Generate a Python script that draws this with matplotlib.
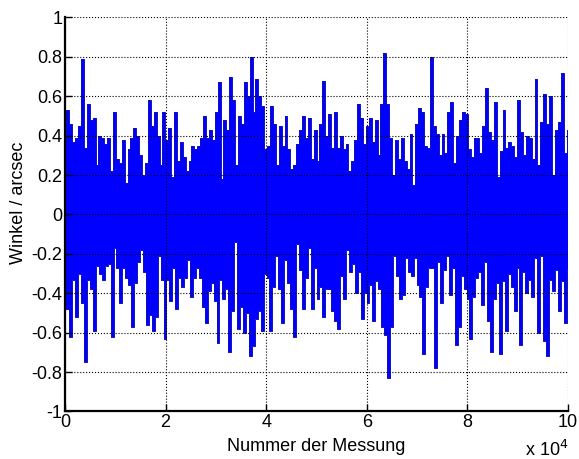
import numpy as np
import matplotlib.pyplot as plt
from matplotlib.ticker import FuncFormatter

upper = [0.38, 0.53, 0.46, 0.37, 0.39, 0.45, 0.79, 0.34, 0.56, 0.48,
         0.49, 0.25, 0.40, 0.39, 0.36, 0.39, 0.22, 0.52, 0.28, 0.26,
         0.38, 0.16, 0.33, 0.39, 0.44, 0.40, 0.30, 0.20, 0.26, 0.58,
         0.45, 0.52, 0.40, 0.25, 0.52, 0.38, 0.44, 0.19, 0.52, 0.27,
         0.37, 0.29, 0.22, 0.27, 0.35, 0.33, 0.35, 0.39, 0.50, 0.39,
         0.43, 0.38, 0.52, 0.67, 0.18, 0.48, 0.43, 0.70, 0.58, 0.25,
         0.50, 0.46, 0.67, 0.60, 0.80, 0.52, 0.69, 0.60, 0.55, 0.33,
         0.35, 0.55, 0.46, 0.25, 0.45, 0.35, 0.50, 0.33, 0.23, 0.25,
         0.36, 0.43, 0.50, 0.39, 0.49, 0.28, 0.43, 0.27, 0.46, 0.68,
         0.40, 0.51, 0.34, 0.52, 0.34, 0.40, 0.33, 0.36, 0.22, 0.27,
         0.38, 0.56, 0.49, 0.36, 0.45, 0.49, 0.37, 0.48, 0.30, 0.56,
         0.82, 0.56, 0.39, 0.20, 0.38, 0.28, 0.39, 0.27, 0.23, 0.41,
         0.15, 0.46, 0.54, 0.52, 0.35, 0.34, 0.80, 0.45, 0.41, 0.30,
         0.41, 0.31, 0.52, 0.57, 0.26, 0.40, 0.48, 0.52, 0.51, 0.33,
         0.29, 0.39, 0.39, 0.31, 0.45, 0.64, 0.42, 0.38, 0.57, 0.19,
         0.32, 0.53, 0.34, 0.37, 0.35, 0.29, 0.58, 0.42, 0.30, 0.40,
         0.39, 0.28, 0.69, 0.25, 0.47, 0.61, 0.46, 0.60, 0.20, 0.43,
         0.47, 0.72, 0.31, 0.43]

# lower envelope
lower = [-0.47, -0.48, -0.62, -0.33, -0.52, -0.30, -0.45, -0.75, -0.33, -0.38,
         -0.59, -0.26, -0.30, -0.33, -0.26, -0.25, -0.62, -0.17, -0.27, -0.45,
         -0.27, -0.32, -0.36, -0.57, -0.35, -0.24, -0.18, -0.29, -0.56, -0.51,
         -0.59, -0.52, -0.21, -0.33, -0.63, -0.33, -0.44, -0.27, -0.48, -0.32,
         -0.37, -0.32, -0.23, -0.42, -0.32, -0.27, -0.32, -0.47, -0.55, -0.39,
         -0.35, -0.44, -0.65, -0.33, -0.43, -0.38, -0.70, -0.49, -0.14, -0.58,
         -0.47, -0.60, -0.50, -0.72, -0.67, -0.53, -0.49, -0.59, -0.30, -0.32,
         -0.59, -0.37, -0.21, -0.38, -0.55, -0.23, -0.35, -0.48, -0.62, -0.15,
         -0.28, -0.48, -0.32, -0.17, -0.48, -0.27, -0.43, -0.37, -0.52, -0.38,
         -0.38, -0.49, -0.54, -0.58, -0.31, -0.43, -0.18, -0.29, -0.25, -0.40,
         -0.29, -0.53, -0.40, -0.45, -0.36, -0.54, -0.34, -0.38, -0.57, -0.61,
         -0.83, -0.57, -0.21, -0.31, -0.43, -0.41, -0.22, -0.29, -0.31, -0.22,
         -0.36, -0.42, -0.71, -0.37, -0.27, -0.27, -0.78, -0.24, -0.45, -0.28,
         -0.21, -0.41, -0.27, -0.66, -0.57, -0.31, -0.38, -0.43, -0.63, -0.42,
         -0.32, -0.29, -0.46, -0.24, -0.54, -0.70, -0.43, -0.35, -0.71, -0.34,
         -0.59, -0.30, -0.37, -0.49, -0.27, -0.66, -0.29, -0.40, -0.33, -0.42,
         -0.22, -0.60, -0.21, -0.64, -0.72, -0.33, -0.39, -0.28, -0.49, -0.34,
         -0.55, -0.28]

n_max = 100000
xticks = [0, 2e4, 4e4, 6e4, 8e4, 10e4]
yticks = [-1, -0.8, -0.6, -0.4, -0.2, 0, 0.2, 0.4, 0.6, 0.8, 1]

plt.rcParams['font.family'] = ['Liberation Sans', 'DejaVu Sans']

fig = plt.figure(figsize=(5.79, 4.59), dpi=100)
ax = fig.add_axes([0.1123, 0.1035, 0.8687, 0.8584])

xu = np.linspace(0, n_max, len(upper))
xl = np.linspace(0, n_max, len(lower))

blue = '#0000ff'
edge = '#1010c0'
ax.fill_between(xu, 0, upper, step='mid', color=blue, lw=0)
ax.fill_between(xl, lower, 0, step='mid', color=blue, lw=0)
ax.plot(xu, upper, drawstyle='steps-mid', color=edge, lw=0.7)
ax.plot(xl, lower, drawstyle='steps-mid', color=edge, lw=0.7)

ax.set_xlim(0, n_max)
ax.set_ylim(-1, 1)
ax.set_xticks(xticks)
ax.set_yticks(yticks)
ax.xaxis.set_major_formatter(FuncFormatter(lambda v, p: '%g' % (v / 1e4)))
ax.yaxis.set_major_formatter(FuncFormatter(lambda v, p: '%g' % v))
ax.tick_params(direction='in', length=5, width=1, labelsize=13, pad=2)

ax.grid(True, color='black', linestyle=':', lw=0.8)
ax.set_axisbelow(False)
for s in ['top', 'right']:
    ax.spines[s].set_visible(False)
for s in ['left', 'bottom']:
    ax.spines[s].set_linewidth(1.6)

ax.set_xlabel('Nummer der Messung', fontsize=13, labelpad=5)
ax.set_ylabel('Winkel / arcsec', fontsize=13)
ax.yaxis.set_label_coords(-0.076, 0.53)
fig.text(568 / 579, 0.006, r'x 10$^{4}$', fontsize=13, ha='right', va='baseline')

fig.savefig('out.png', dpi=100)
